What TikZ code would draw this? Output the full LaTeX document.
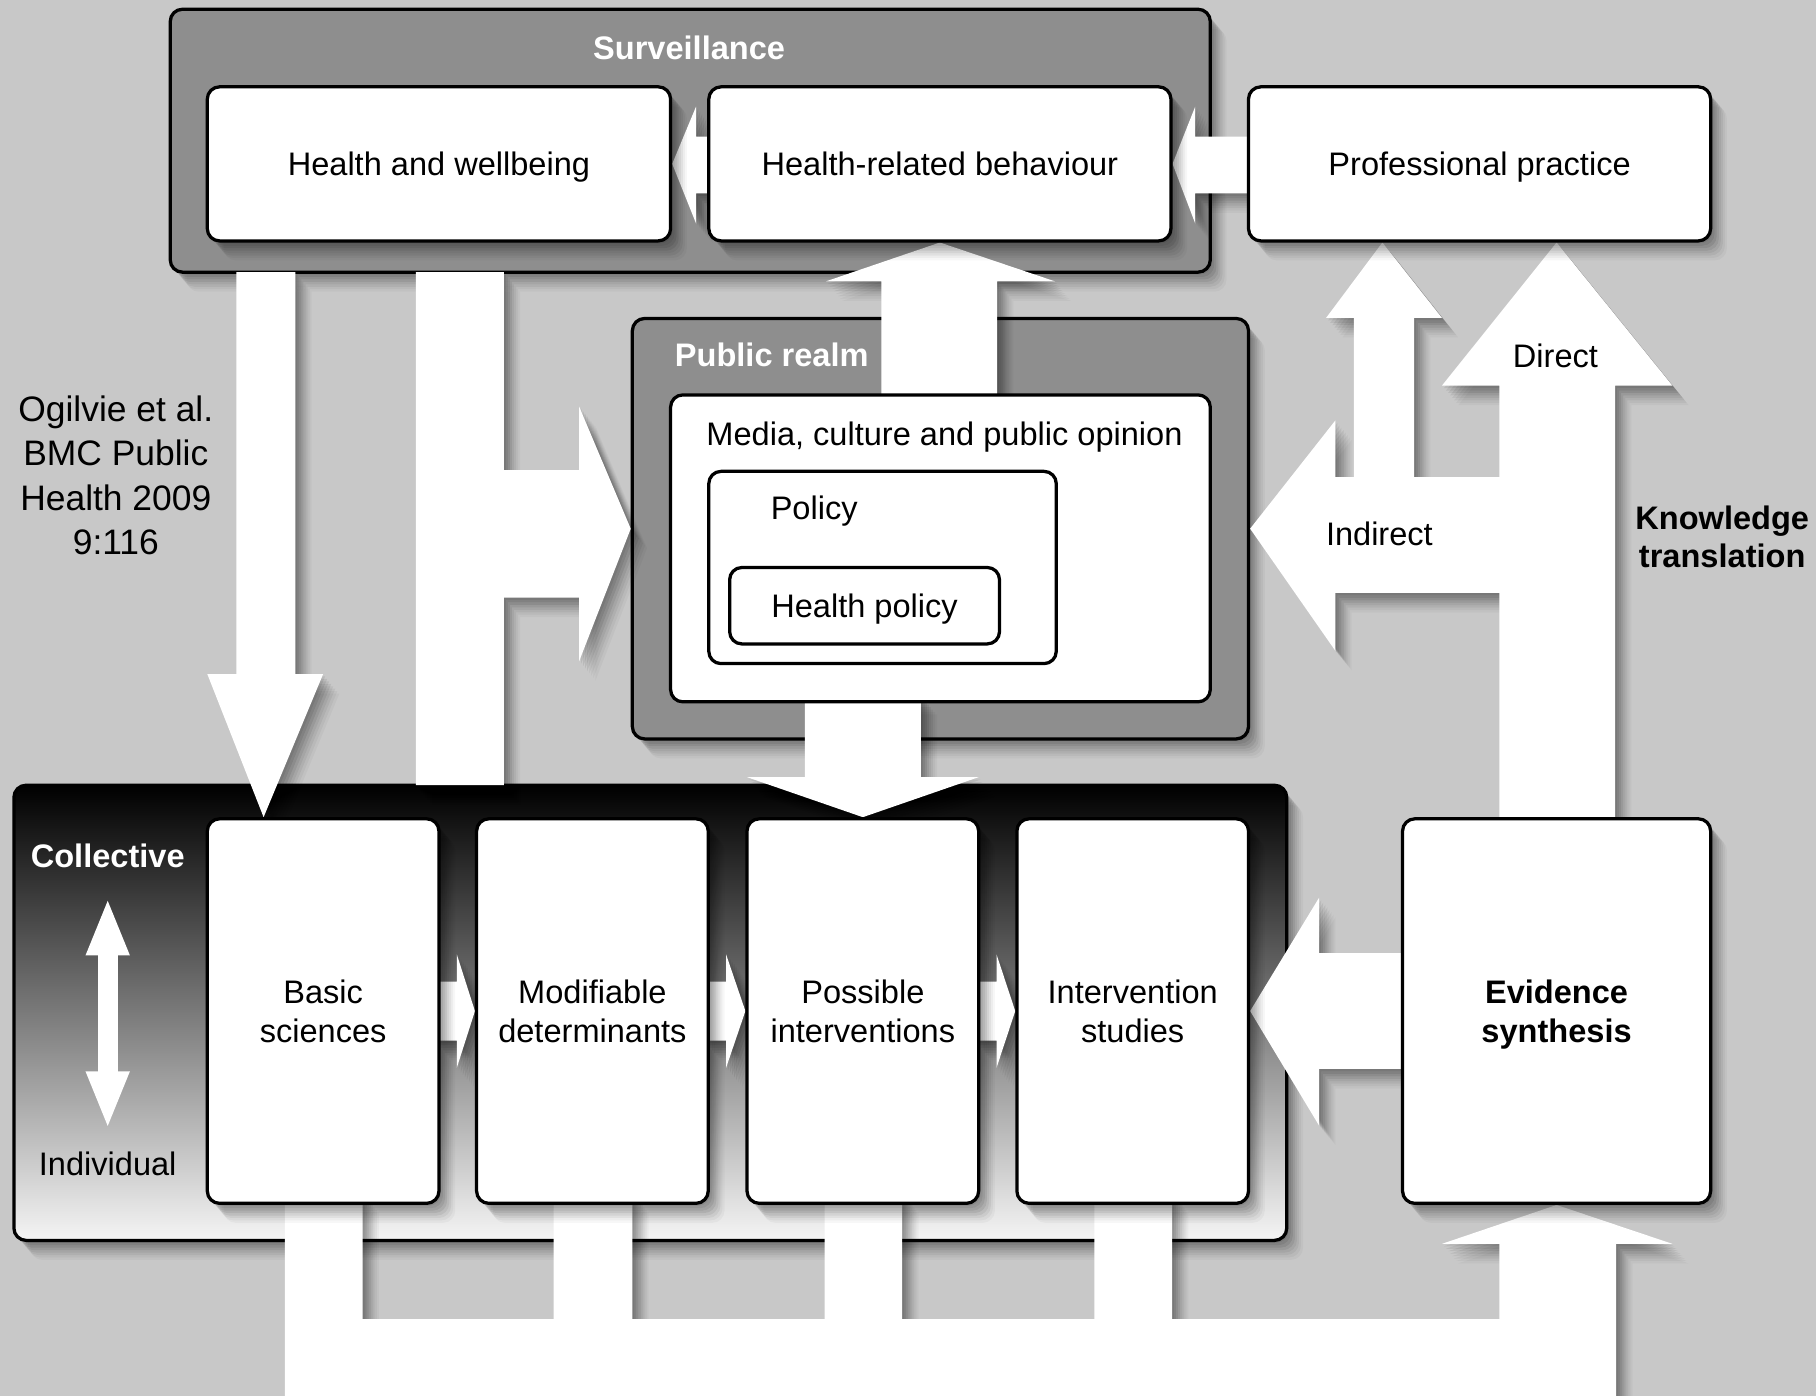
\documentclass[tikz,border=0pt]{standalone}
\usepackage{fontspec}
\setmainfont{Liberation Sans}
\usetikzlibrary{calc,arrows.meta}
\definecolor{bggray}{RGB}{200,200,200}
\definecolor{boxgray}{RGB}{142,142,142}
\pgfdeclarelayer{back}
\pgfdeclarelayer{flow}
\pgfsetlayers{back,flow,main}
\tikzset{softshadow/.style={
    preaction={fill=black, opacity=0.07, transform canvas={xshift=0.5pt, yshift=-0.6pt}},
    preaction={fill=black, opacity=0.07, transform canvas={xshift=1.0pt, yshift=-1.2pt}},
    preaction={fill=black, opacity=0.07, transform canvas={xshift=1.5pt, yshift=-1.8pt}},
    preaction={fill=black, opacity=0.07, transform canvas={xshift=2.0pt, yshift=-2.4pt}},
    preaction={fill=black, opacity=0.06, transform canvas={xshift=2.5pt, yshift=-3.0pt}},
    preaction={fill=black, opacity=0.05, transform canvas={xshift=3.0pt, yshift=-3.6pt}},
    preaction={fill=black, opacity=0.04, transform canvas={xshift=3.5pt, yshift=-4.2pt}},
    preaction={fill=black, opacity=0.03, transform canvas={xshift=4.0pt, yshift=-4.8pt}}}}

\begin{document}
\begin{tikzpicture}[line join=round, font=\fontsize{8}{9.4}\selectfont,
    container/.style={draw=black, line width=0.8pt, rounded corners=3pt, fill=boxgray, inner sep=0pt, softshadow},
    whitebox/.style={draw=black, line width=0.8pt, rounded corners=3pt, fill=white, inner sep=0pt, align=center, text depth=0pt, softshadow},
    nestbox/.style={draw=black, line width=0.8pt, rounded corners=3pt, fill=white, inner sep=0pt, text depth=0pt},
    blockarrow/.style={fill=white, softshadow},
    boxtitle/.style={text=white, inner sep=1pt, font=\bfseries\fontsize{8}{9.4}\selectfont}]
    \useasboundingbox (0,0) rectangle (15.68,-12.05);

    % grey panels at the back
    \begin{pgfonlayer}{back}
        \fill[bggray] (0,0) rectangle (15.68,-12.05);
        \node[container, minimum width=8.98cm, minimum height=2.27cm] (surv) at (5.96,-1.215) {};
        \node[container, minimum width=5.32cm, minimum height=3.63cm] (pub) at (8.12,-4.565) {};
        \node[container, top color=black, bottom color=white!96!black, minimum width=10.99cm, minimum height=3.93cm] (coll) at (5.615,-8.745) {};
    \end{pgfonlayer}

    % white boxes
    \node[whitebox, minimum width=4cm, minimum height=1.33cm] (hw) at (3.79,-1.415) {Health and wellbeing};
    \node[whitebox, minimum width=3.99cm, minimum height=1.33cm] (hrb) at (8.115,-1.415) {Health-related behaviour};
    \node[whitebox, minimum width=3.99cm, minimum height=1.33cm] (pp) at (12.775,-1.415) {Professional practice};
    \node[nestbox, minimum width=4.66cm, minimum height=2.65cm] (media) at (8.12,-4.735) {};
    \node[nestbox, minimum width=3cm, minimum height=1.66cm] (policy) at (7.62,-4.90) {};
    \node[nestbox, minimum width=2.33cm, minimum height=0.66cm] (hpol) at (7.465,-5.23) {Health policy};
    \node[whitebox, minimum width=2cm, minimum height=3.32cm] (basic) at (2.79,-8.73) {Basic\\sciences};
    \node[whitebox, minimum width=2cm, minimum height=3.32cm] (modif) at (5.115,-8.73) {Modifiable\\determinants};
    \node[whitebox, minimum width=2cm, minimum height=3.32cm] (poss) at (7.45,-8.73) {Possible\\interventions};
    \node[whitebox, minimum width=2cm, minimum height=3.32cm] (interv) at (9.78,-8.73) {Intervention\\studies};
    \node[whitebox, minimum width=2.66cm, minimum height=3.32cm, font=\bfseries\fontsize{8}{9.4}\selectfont] (evid) at (13.44,-8.73) {Evidence\\synthesis};

    % labels
    \node[boxtitle] (survlbl) at (5.95,-0.41) {Surveillance};
    \node[boxtitle, anchor=west] (publbl) at (5.785,-3.06) {Public realm};
    \node (medialbl) at (8.155,-3.77) {Media, culture and public opinion};
    \node (policylbl) at (7.03,-4.41) {Policy};
    \node[boxtitle] (colllbl) at (0.93,-7.39) {Collective};
    \node (indlbl) at (0.93,-10.05) {Individual};
    \node (directlbl) at (13.43,-3.07) {Direct};
    \node (indirectlbl) at (11.91,-4.61) {Indirect};
    \node[align=center, font=\bfseries\fontsize{8}{9.4}\selectfont] (ktlbl) at (14.87,-4.635) {Knowledge\\translation};
    \node[align=center, font=\fontsize{8.7}{10.9}\selectfont] (cite) at (1.0,-4.105) {Ogilvie et al.\\BMC Public\\Health 2009\\9:116};
    \draw[white, line width=0.17cm, {Triangle[width=0.34cm,length=0.5cm]}-{Triangle[width=0.34cm,length=0.5cm]}]
        ($(colllbl)+(0,-0.36)$) -- ($(indlbl)+(0,0.30)$);

    % block arrows
    \begin{pgfonlayer}{flow}
        \fill[blockarrow] (2.04,-2.35) -- (2.04,-5.82) -- (1.79,-5.82) -- ($(basic.north west)+(0.5,0)$) -- (2.79,-5.82) -- (2.55,-5.82) -- (2.55,-2.35) -- cycle;
        \fill[blockarrow] (3.59,-2.35) -- (3.59,-6.78) -- (4.35,-6.78) -- (4.35,-5.16) -- (5.00,-5.16) -- (5.00,-5.71) -- (pub.west)
            -- (5.00,-3.51) -- (5.00,-4.06) -- (4.35,-4.06) -- (4.35,-2.35) -- cycle;
        \fill[blockarrow] (7.61,-3.45) -- (7.61,-2.43) -- (7.13,-2.43) -- (hrb.south) -- (9.11,-2.43) -- (8.61,-2.43) -- (8.61,-3.45) -- cycle;
        \fill[blockarrow] (6.95,-6.0) -- (6.95,-6.71) -- (6.45,-6.71) -- (poss.north) -- (8.45,-6.71) -- (7.95,-6.71) -- (7.95,-6.0) -- cycle;
        \fill[blockarrow] (10.85,-1.18) -- (10.32,-1.18) -- (10.32,-0.92) -- (hrb.east) -- (10.32,-1.93) -- (10.32,-1.67) -- (10.85,-1.67) -- cycle;
        \fill[blockarrow] (6.2,-1.18) -- (6.01,-1.18) -- (6.01,-0.92) -- (hw.east) -- (6.01,-1.93) -- (6.01,-1.67) -- (6.2,-1.67) -- cycle;
        \foreach \a/\b in {basic/modif, modif/poss, poss/interv}
            \fill[blockarrow] ($(\a.east)+(-0.05,0.255)$) -- ($(\a.east)+(0.14,0.255)$) -- ($(\a.east)+(0.14,0.49)$) -- (\b.west)
                -- ($(\a.east)+(0.14,-0.49)$) -- ($(\a.east)+(0.14,-0.255)$) -- ($(\a.east)+(-0.05,-0.255)$) -- cycle;
        \fill[blockarrow] (12.2,-8.23) -- (11.39,-8.23) -- (11.39,-7.75) -- (interv.east) -- (11.39,-9.72) -- (11.39,-9.23) -- (12.2,-9.23) -- cycle;
        % knowledge translation
        \fill[blockarrow] (12.945,-7.2) -- (12.945,-5.12) -- (11.53,-5.12) -- (11.53,-5.62) -- (pub.east) -- (11.53,-3.63) -- (11.53,-4.12)
            -- (11.69,-4.12) -- (11.69,-2.745) -- (11.45,-2.745) -- ($(pp.south west)+(1.17,0)$) -- (12.45,-2.745) -- (12.21,-2.745)
            -- (12.21,-4.12) -- (12.945,-4.12) -- (12.945,-3.33) -- (12.45,-3.33) -- (evid.north |- pp.south) -- (14.44,-3.33)
            -- (13.945,-3.33) -- (13.945,-7.2) -- cycle;
        % feedback along the bottom
        \fill[blockarrow] (2.46,-10.3) -- (2.46,-12.2) -- (13.955,-12.2) -- (13.955,-10.74) -- (14.44,-10.74) -- (evid.south)
            -- (12.45,-10.74) -- (12.945,-10.74) -- (12.945,-11.39) -- (10.12,-11.39) -- (10.12,-10.3) -- (9.45,-10.3)
            -- (9.45,-11.39) -- (7.79,-11.39) -- (7.79,-10.3) -- (7.12,-10.3) -- (7.12,-11.39) -- (5.46,-11.39) -- (5.46,-10.3)
            -- (4.78,-10.3) -- (4.78,-11.39) -- (3.13,-11.39) -- (3.13,-10.3) -- cycle;
    \end{pgfonlayer}
\end{tikzpicture}
\end{document}
